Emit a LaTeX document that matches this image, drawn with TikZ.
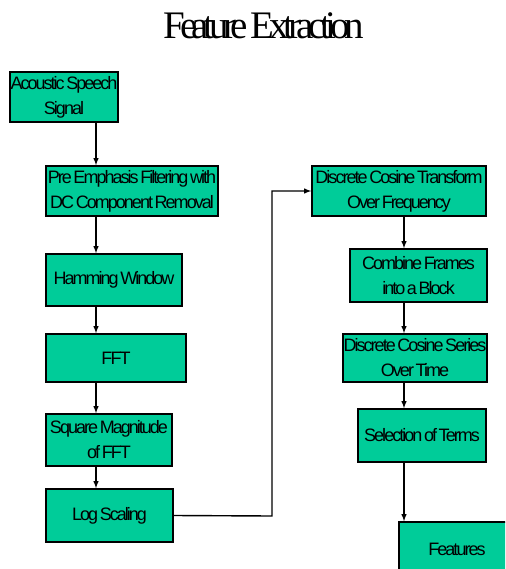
\documentclass[tikz,border=0pt]{standalone}
\usepackage{fontspec}
\setmainfont{Liberation Sans}[LetterSpace=-11,WordSpace=0.55]
\newfontfamily\titlefont{Liberation Serif}[LetterSpace=-14,WordSpace=0.7]
\usepackage{tikz}
\usetikzlibrary{calc}

\begin{document}
\begin{tikzpicture}[x=1pt,y=-1pt,
        blk/.style={draw,line width=1.6pt,fill=boxgreen,align=center,inner sep=0pt,
                    font=\fontsize{18}{25}\selectfont},
        flow/.style={-latex,line width=1.4pt}]
        \definecolor{boxgreen}{HTML}{00CC99}
        \clip (0,0) rectangle (505,569);

        \node[font=\titlefont\fontsize{39}{40}\selectfont] (title) at (264,26) {Feature Extraction};

        % left column
        \node[blk,minimum width=108pt,minimum height=50pt] (sig) at (64,97) {Acoustic Speech\\Signal};
        \node[blk,minimum width=172pt,minimum height=50pt] (pre) at (132,191) {Pre Emphasis Filtering with\\DC Component Removal};
        \node[blk,minimum width=136pt,minimum height=52pt] (ham) at (114,280) {Hamming Window};
        \node[blk,minimum width=140pt,minimum height=48pt] (fft) at (116,358) {FFT};
        \node[blk,minimum width=126pt,minimum height=52pt] (sqm) at (109,440) {Square Magnitude\\of FFT};
        \node[blk,minimum width=127pt,minimum height=53pt] (log) at (109.5,515.5) {Log Scaling};

        % right column
        \node[blk,minimum width=174pt,minimum height=50pt] (dctf) at (399,191) {Discrete Cosine Transform\\Over Frequency};
        \node[blk,minimum width=137pt,minimum height=53pt] (comb) at (418.5,275.5) {Combine Frames\\into a Block};
        \node[blk,minimum width=144pt,minimum height=48pt] (dcst) at (415,358) {Discrete Cosine Series\\Over Time};
        \node[blk,minimum width=128pt,minimum height=53pt] (sel) at (422,435.5) {Selection of Terms};
        \node[blk,minimum width=116pt,minimum height=54pt] (feat) at (457,549) {Features};

        \coordinate (turn) at (272,516);

        \draw[flow] (sig.south -| 96,0) -- (pre.north -| 96,0);
        \draw[flow] (pre.south -| 96,0) -- (ham.north -| 96,0);
        \draw[flow] (ham.south -| 96,0) -- (fft.north -| 96,0);
        \draw[flow] (fft.south -| 96,0) -- (sqm.north -| 96,0);
        \draw[flow] (sqm.south -| 96,0) -- (log.north -| 96,0);
        \draw[flow] (log.east) -- (turn) |- (dctf.west);
        \draw[flow] (dctf.south -| 404,0) -- (comb.north -| 404,0);
        \draw[flow] (comb.south -| 404,0) -- (dcst.north -| 404,0);
        \draw[flow] (dcst.south -| 404,0) -- (sel.north -| 404,0);
        \draw[flow] (sel.south -| 404,0) -- (feat.north -| 404,0);
\end{tikzpicture}
\end{document}
